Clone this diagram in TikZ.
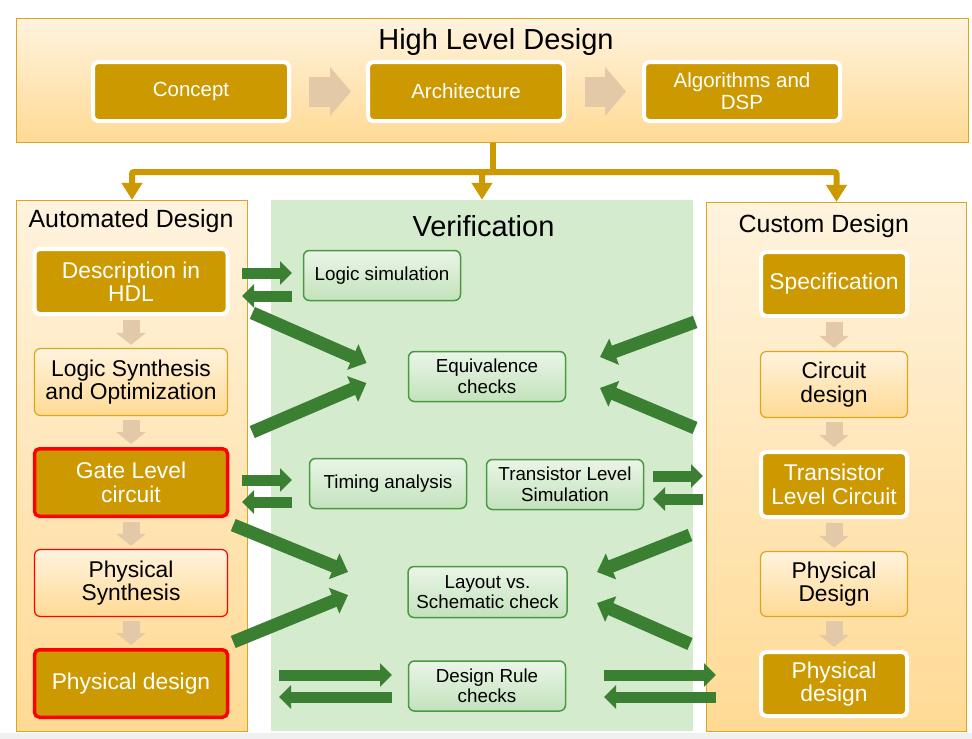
\documentclass[tikz,border=0pt]{standalone}
\usepackage{fontspec}
\setmainfont{Liberation Sans}
\usetikzlibrary{arrows.meta}

\definecolor{gold}{HTML}{CC9900}
\definecolor{goldline}{HTML}{DAA520}
\definecolor{paletop}{HTML}{FFF3DE}
\definecolor{palebot}{HTML}{FFDA94}
\definecolor{tanarr}{HTML}{E3C9A8}
\definecolor{verifbg}{HTML}{D4EBCE}
\definecolor{garr}{HTML}{3B7F33}
\definecolor{gline}{HTML}{4A9A42}
\definecolor{gtop}{HTML}{EAF5E7}
\definecolor{gbot}{HTML}{C3E2BC}

\tikzset{
  panel/.style={draw=goldline, line width=1.2pt, top color=paletop, bottom color=palebot},
  title/.style={anchor=base, font=\fontsize{24.9}{27}\selectfont},
  darkbox/.style={fill=gold, draw=white, line width=4pt, rounded corners=5pt, text=white,
    align=center, font=\fontsize{22.8}{23.5}\selectfont},
  lightbox/.style={draw=goldline, line width=1.2pt, rounded corners=6pt, top color=paletop,
    bottom color=palebot, align=center, font=\fontsize{22.8}{23.5}\selectfont},
  redbox/.style={draw=red, line width=3.5pt},
  vbox/.style={draw=gline, line width=1.5pt, rounded corners=6pt, top color=gtop, bottom color=gbot,
    minimum width=157pt, minimum height=50pt, align=center, font=\fontsize{18.8}{20.5}\selectfont},
  tandown/.style={draw=tanarr, line width=17pt, -{Triangle[length=12pt,width=29pt]},
    shorten <=3.5pt, shorten >=3pt},
  tanright/.style={draw=tanarr, line width=30pt, -{Triangle[length=21pt,width=48pt]}},
  gpair/.style={draw=garr, line width=11pt, -{Triangle[length=12pt,width=23pt]}},
  gdiag/.style={draw=garr, line width=13pt, -{Triangle[length=15pt,width=27pt]}},
  otree/.style={draw=gold, line width=6pt, rounded corners=2pt}
}

\begin{document}
\begin{tikzpicture}[x=1pt,y=-1pt]
\useasboundingbox (0,0) rectangle (972,739);
\fill[black!6] (0,733) rectangle (972,739);

\node[panel, minimum width=952pt, minimum height=124pt] (hld) at (492.5,80.5) {};
\node[panel, minimum width=231pt, minimum height=531pt] (auto) at (132,466) {};
\node[fill=verifbg, minimum width=422pt, minimum height=531pt] (verif) at (482,465.5) {};
\node[panel, minimum width=260pt, minimum height=529pt] (custom) at (836.5,467) {};

\node[title, font=\fontsize{29}{31}\selectfont] (hldtitle) at (496,49) {High Level Design};
\node[title] (autotitle) at (131,227.7) {Automated Design};
\node[title, font=\fontsize{29}{31}\selectfont] (veriftitle) at (483.5,236) {Verification};
\node[title] (customtitle) at (823.8,232.7) {Custom Design};

\node[darkbox, minimum width=196pt, minimum height=59pt, font=\fontsize{20.5}{22}\selectfont] (concept) at (191,91.5) {Concept};
\node[darkbox, minimum width=196pt, minimum height=59pt, font=\fontsize{20.5}{22}\selectfont] (arch) at (466,91.5) {Architecture};
\node[darkbox, minimum width=196pt, minimum height=59pt, font=\fontsize{20.5}{22}\selectfont] (algo) at (742,91.5) {Algorithms and\\DSP};

\node[darkbox, minimum width=193pt, minimum height=65pt] (hdl) at (131,281.5) {Description in\\HDL};
\node[lightbox, minimum width=193pt, minimum height=67pt] (logsyn) at (131,382) {Logic Synthesis\\and Optimization};
\node[darkbox, redbox, minimum width=193pt, minimum height=67.5pt] (gate) at (131,482.5) {Gate Level\\circuit};
\node[lightbox, draw=red, minimum width=193pt, minimum height=67pt] (physyn) at (131,583) {Physical\\Synthesis};
\node[darkbox, redbox, minimum width=193pt, minimum height=67.5pt] (physdes) at (131,683.5) {Physical design};

\node[darkbox, minimum width=146pt, minimum height=64pt] (spec) at (834,284) {Specification};
\node[lightbox, minimum width=147pt, minimum height=66pt] (circ) at (834,384.5) {Circuit\\design};
\node[darkbox, minimum width=146pt, minimum height=65pt] (tlc) at (834,484.5) {Transistor\\Level Circuit};
\node[lightbox, minimum width=147pt, minimum height=65pt] (phd) at (834,584) {Physical\\Design};
\node[darkbox, minimum width=146pt, minimum height=64pt] (phdes) at (834,684) {Physical\\design};

\node[vbox] (logsim) at (382,275.5) {Logic simulation};
\node[vbox] (equiv) at (487,376.5) {Equivalence\\checks};
\node[vbox] (timing) at (388,483.5) {Timing analysis};
\node[vbox] (tls) at (565,484.5) {Transistor Level\\Simulation};
\node[vbox, minimum width=159pt, minimum height=51pt] (lvs) at (487.5,592) {Layout vs.\\Schematic check};
\node[vbox] (drc) at (487,686) {Design Rule\\checks};

\coordinate (split) at (492.5,172);
\draw[otree] (hld.south) -- (split);
\draw[otree, -{Triangle[length=17pt,width=20pt]}] (split) -| (auto.north);
\draw[otree, -{Triangle[length=17pt,width=20pt]}] (split) -| (verif.north);
\draw[otree, -{Triangle[length=17pt,width=20pt]}] (split) -| (custom.north);

\draw[tanright, shorten <=18pt, shorten >=15pt] (concept) -- (arch);
\draw[tanright, shorten <=19pt, shorten >=16pt] (arch) -- (algo);

\draw[tandown] (hdl) -- (logsyn);
\draw[tandown] (logsyn) -- (gate);
\draw[tandown] (gate) -- (physyn);
\draw[tandown] (physyn) -- (physdes);
\draw[tandown] (spec) -- (circ);
\draw[tandown] (circ) -- (tlc);
\draw[tandown] (tlc) -- (phd);
\draw[tandown] (phd) -- (phdes);

\draw[gpair, shorten <=12.5pt, shorten >=10.75pt] ([yshift=8.5pt]hdl.east) -- ([yshift=2.5pt]logsim.west);
\draw[gpair, shorten <=10.75pt, shorten >=12.5pt] ([yshift=-20.5pt]logsim.west) -- ([yshift=-14.5pt]hdl.east);
\draw[gpair, shorten <=12.75pt, shorten >=16.75pt] ([yshift=2.5pt]gate.east) -- ([yshift=3.5pt]timing.west);
\draw[gpair, shorten <=16.75pt, shorten >=12.75pt] ([yshift=-18.5pt]timing.west) -- ([yshift=-19.5pt]gate.east);
\draw[gpair, shorten <=8.75pt, shorten >=56pt] ([yshift=8.5pt]tls.east) -- ([yshift=8.5pt]tlc.west);
\draw[gpair, shorten <=56pt, shorten >=8.75pt] ([yshift=-14.5pt]tlc.west) -- ([yshift=-14.5pt]tls.east);
\draw[gpair, shorten <=49.75pt, shorten >=15.75pt] ([yshift=8.5pt]physdes.east) -- ([yshift=11pt]drc.west);
\draw[gpair, shorten <=15.75pt, shorten >=49.75pt] ([yshift=-11pt]drc.west) -- ([yshift=-13.5pt]physdes.east);
\draw[gpair, shorten <=37.75pt, shorten >=43pt] ([yshift=11pt]drc.east) -- ([yshift=9pt]phdes.west);
\draw[gpair, shorten <=43pt, shorten >=37.75pt] ([yshift=-13pt]phdes.west) -- ([yshift=-11pt]drc.east);

\draw[gdiag, shorten <=25pt, shorten >=45pt] ([yshift=-21.4pt]hdl.east) -- ([yshift=-4.6pt]equiv.west);
\draw[gdiag, shorten <=25pt, shorten >=45pt] ([yshift=40.6pt]gate.east) -- ([yshift=11.2pt]equiv.west);
\draw[gdiag, shorten <=68pt, shorten >=36pt] ([yshift=-14.4pt]spec.west) -- ([yshift=7.1pt]equiv.east);
\draw[gdiag, shorten <=69.4pt, shorten >=36.6pt] ([yshift=29.6pt]tlc.west) -- ([yshift=2.7pt]equiv.east);
\draw[gdiag, shorten <=4.3pt, shorten >=64pt] ([yshift=-5.4pt]gate.south east) -- ([yshift=-4.2pt]lvs.west);
\draw[gdiag, shorten <=4.3pt, shorten >=64pt] ([yshift=4.4pt]physdes.north east) -- ([yshift=21.2pt]lvs.west);
\draw[gdiag, shorten <=74.2pt, shorten >=31.5pt] ([yshift=-23.1pt]tlc.west) -- ([yshift=8.4pt]lvs.east);
\draw[gdiag, shorten <=75.4pt, shorten >=32pt] ([yshift=9.6pt]phdes.west) -- ([yshift=1.9pt]lvs.east);
\end{tikzpicture}
\end{document}
